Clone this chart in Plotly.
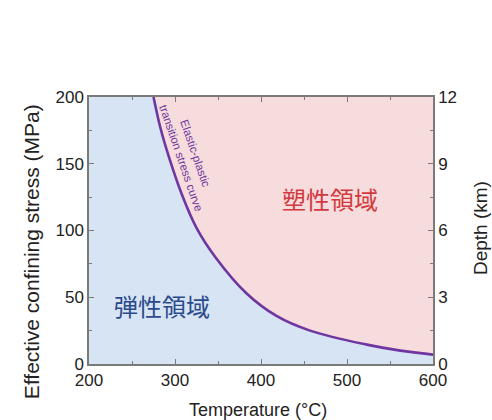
import plotly.graph_objects as go

# Elastic-plastic transition stress curve
temps = [275, 283, 293, 308, 325, 347, 383, 418, 457, 523, 562, 600]
stress = [200, 177, 155, 127, 102, 80, 53, 36, 25, 14.5, 10, 7]

x_ticks = [200, 300, 400, 500, 600]
y_ticks = [0, 50, 100, 150, 200]
depth_ticks = [0, 3, 6, 9, 12]

blue = "#d7e4f4"
pink = "#f6dcdc"
purple = "#6f35a0"
axis_col = "#7a7a7a"
font = "Liberation Sans, Arial, sans-serif"

fig = go.Figure()

# elastic region (below the curve)
fig.add_trace(go.Scatter(
    x=[x_ticks[0]] + temps, y=[y_ticks[-1]] + stress,
    mode="none", fill="tozeroy", fillcolor=blue,
    line=dict(shape="spline", smoothing=1.0), hoverinfo="skip", showlegend=False))

# curve
fig.add_trace(go.Scatter(
    x=temps, y=stress, mode="lines",
    line=dict(color=purple, width=2.6, shape="spline", smoothing=1.0),
    hoverinfo="skip", showlegend=False))

# dummy trace for the depth axis
fig.add_trace(go.Scatter(
    x=[x_ticks[0]], y=[depth_ticks[0]], yaxis="y2", mode="markers",
    marker=dict(opacity=0), hoverinfo="skip", showlegend=False))

fig.add_annotation(
    x=315, y=156, xref="x", yref="y",
    text="Elastic-plastic<br>transition stress curve",
    showarrow=False, textangle=71,
    font=dict(family=font, size=11.5, color=purple), align="center")

fig.add_annotation(
    x=480, y=124, xref="x", yref="y", text="塑性領域", showarrow=False,
    font=dict(family="Noto Sans CJK JP", size=24, color="#d23a40"))

fig.add_annotation(
    x=285, y=44, xref="x", yref="y", text="弾性領域", showarrow=False,
    font=dict(family="Noto Sans CJK JP", size=24, color="#2b4a8c"))

# axis titles
fig.add_annotation(
    x=-0.1686, y=0.419, xref="paper", yref="paper", showarrow=False,
    xanchor="center", yanchor="middle",
    text="Effective confining stress (MPa)", textangle=-90,
    font=dict(family=font, size=21, color="#222222"))
fig.add_annotation(
    x=1.1366, y=0.509, xref="paper", yref="paper", showarrow=False,
    xanchor="center", yanchor="middle",
    text="Depth (km)", textangle=-90,
    font=dict(family=font, size=19, color="#222222"))
fig.add_annotation(
    x=0.491, y=-0.172, xref="paper", yref="paper", showarrow=False,
    xanchor="center", yanchor="middle",
    text="Temperature (°C)",
    font=dict(family=font, size=18, color="#222222"))

fig.update_layout(
    width=492, height=420,
    margin=dict(l=89, r=59, t=97, b=56, autoexpand=False),
    paper_bgcolor="white", plot_bgcolor=pink,
    font=dict(family=font, color="#222222"),
    xaxis=dict(
        range=[200, 600], tickvals=x_ticks, ticks="inside", ticklen=5,
        tickcolor=axis_col, showline=True, linecolor=axis_col, linewidth=1.5,
        mirror="ticks", showgrid=False, zeroline=False, automargin=False,
        tickfont=dict(size=17),
        minor=dict(dtick=50, ticks="inside", ticklen=3, tickcolor=axis_col)),
    yaxis=dict(
        range=[0, 200], tickvals=y_ticks, ticks="inside", ticklen=5,
        tickcolor=axis_col, showline=True, linecolor=axis_col, linewidth=1.5,
        showgrid=False, zeroline=False, tickfont=dict(size=17), automargin=False,
        minor=dict(dtick=25, ticks="inside", ticklen=3, tickcolor=axis_col)),
    yaxis2=dict(
        range=[0, 12], tickvals=depth_ticks, overlaying="y", side="right",
        ticks="inside", ticklen=5, tickcolor=axis_col, showline=True,
        linecolor=axis_col, linewidth=1.5, showgrid=False, zeroline=False,
        tickfont=dict(size=17), automargin=False,
        minor=dict(dtick=1.5, ticks="inside", ticklen=3, tickcolor=axis_col)),
)

fig.write_html("out.html")
